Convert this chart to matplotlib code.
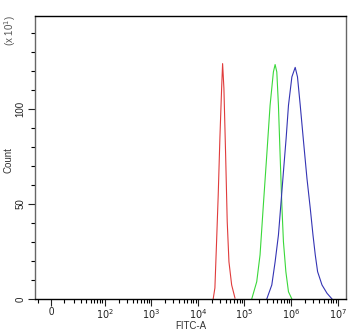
import numpy as np
import matplotlib
matplotlib.use("Agg")
import matplotlib.pyplot as plt
from matplotlib.ticker import FixedLocator, FixedFormatter

plt.rcParams['font.family'] = ['Liberation Sans', 'DejaVu Sans']

# histogram outlines, x as log10(FITC-A), y in counts (x 10^1)
red_log = [4.329, 4.366, 4.402, 4.437, 4.473, 4.510, 4.531, 4.559, 4.596, 4.630, 4.667, 4.725, 4.796]
red_cnt = [0, 5.8, 30.2, 54.7, 84.7, 111, 124, 111, 75.8, 40.7, 19.6, 7.4, 0.5]

green_log = [5.155, 5.262, 5.333, 5.404, 5.477, 5.548, 5.619, 5.656, 5.692, 5.727, 5.763, 5.800, 5.834, 5.886, 5.942, 6.015]
green_cnt = [0, 9.1, 23.2, 49.5, 75.8, 102, 119.6, 123.5, 119.6, 102, 75.8, 49.5, 30.2, 14.4, 3.8, 0]

blue_log = [5.477, 5.585, 5.656, 5.727, 5.778, 5.834, 5.892, 5.942, 6.015, 6.086, 6.135, 6.194, 6.265, 6.338, 6.409, 6.467, 6.516, 6.566, 6.660, 6.768, 6.875]
blue_cnt = [0, 7.4, 19.6, 33.7, 49.5, 67, 84.7, 102, 117, 122, 117, 102, 82.8, 63.5, 47.7, 33.7, 23.2, 14.4, 7.4, 3.0, 0]

major_vals = [0, 1e2, 1e3, 1e4, 1e5, 1e6, 1e7]
major_labels = ["0", "$10^{2}$", "$10^{3}$", "$10^{4}$", "$10^{5}$", "$10^{6}$", "$10^{7}$"]

W = 7.2


def fwd(v):
    v = np.asarray(v, dtype=float)
    return np.log10(W) + np.arcsinh(v / (2 * W)) / np.log(10)


def inv(u):
    u = np.asarray(u, dtype=float)
    return 2 * W * np.sinh((u - np.log10(W)) * np.log(10))


fig = plt.figure(figsize=(3.5, 3.32), dpi=100)
ax = fig.add_axes([0.101, 0.0994, 0.887, 0.852])
ax.set_xscale('function', functions=(fwd, inv))

ax.plot(10 ** np.array(red_log), red_cnt, color="#e03c3c", lw=0.8)
ax.plot(10 ** np.array(green_log), green_cnt, color="#3ad83a", lw=0.8)
ax.plot(10 ** np.array(blue_log), blue_cnt, color="#3434b4", lw=0.8)

ax.set_xlim(float(inv(0.52)), float(inv(7.17)))
ax.set_ylim(0, 149)

minor = [-10] + list(range(10, 100, 10))
for k in range(2, 7):
    minor += [m * 10 ** k for m in range(2, 10)]
ax.xaxis.set_major_locator(FixedLocator(major_vals))
ax.xaxis.set_major_formatter(FixedFormatter(major_labels))
ax.xaxis.set_minor_locator(FixedLocator(minor))

ax.set_yticks([0, 50, 100])
ax.set_yticks(np.arange(0, 150, 10), minor=True)
for lab in ax.get_yticklabels():
    lab.set_rotation(90)
    lab.set_va('center')

ax.tick_params(axis='both', which='major', length=5, width=0.8, labelsize=7, colors='#222222', pad=2)
ax.tick_params(axis='both', which='minor', length=3, width=0.8)
ax.tick_params(axis='x', which='major', pad=1)

for side in ['top', 'bottom']:
    ax.spines[side].set_color('black')
for side in ['left', 'right']:
    ax.spines[side].set_color('#666666')
for s in ax.spines.values():
    s.set_linewidth(1)

ax.set_xlabel("FITC-A", fontsize=7, color='#333333', labelpad=0)
fig.text(9 / 350, 1 - 160 / 332, "Count", rotation=90, fontsize=7, color='#333333', ha='center', va='center')
fig.text(10 / 350, 1 - 30 / 332, "(x 10$^{1}$)", rotation=90, fontsize=7, color='#555555', ha='center', va='center')

fig.savefig("out.png", dpi=100)
